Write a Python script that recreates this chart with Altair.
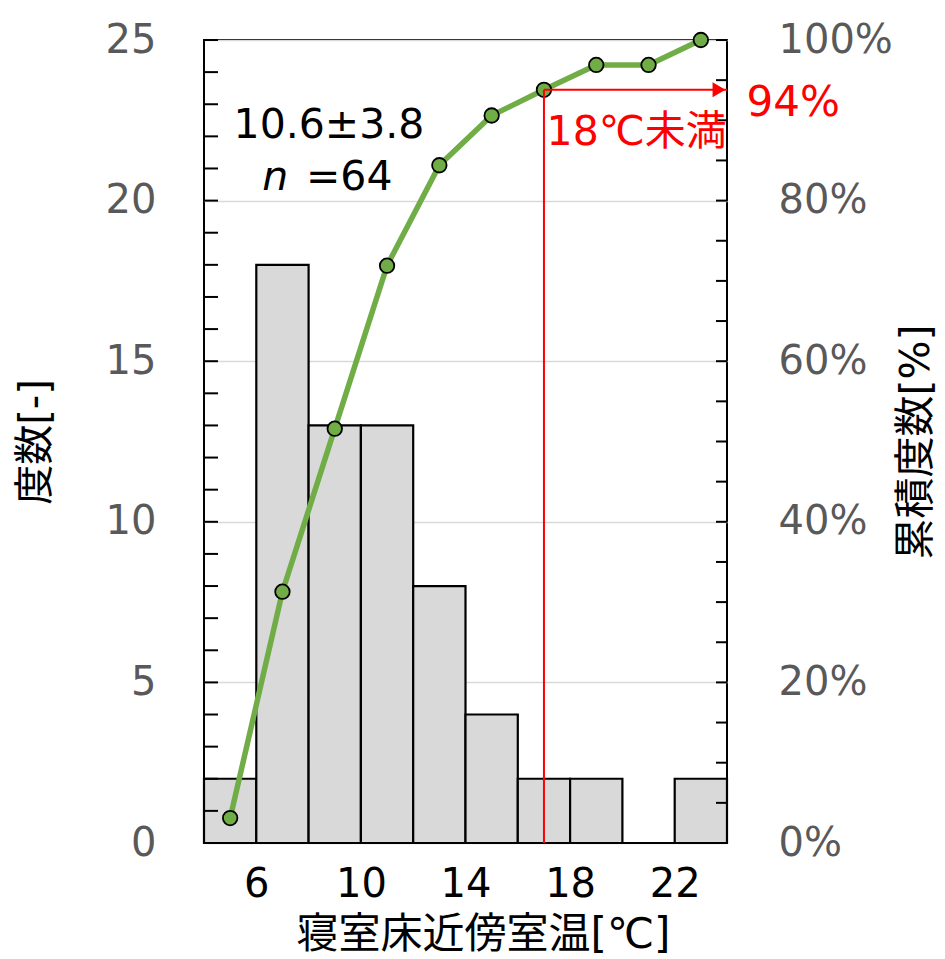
import altair as alt
import pandas as pd

# ---- data ----
bin_start = [4, 6, 8, 10, 12, 14, 16, 18, 20, 22]
bin_end = [6, 8, 10, 12, 14, 16, 18, 20, 22, 24]
counts = [2, 18, 13, 13, 8, 4, 2, 2, 0, 2]
bin_mid = [5, 7, 9, 11, 13, 15, 17, 19, 21, 23]
cum_pct = [3.1, 31.3, 51.6, 71.9, 84.4, 90.6, 93.8, 96.9, 96.9, 100.0]

x_tick_values = [6, 10, 14, 18, 22]
count_tick_values = [0, 5, 10, 15, 20, 25]
pct_tick_values = [0, 20, 40, 60, 80, 100]
count_minor = list(range(0, 26))
pct_minor = list(range(0, 101, 5))

threshold_x = [17]
threshold_x_end = [24]
threshold_pct = [93.8]

stat_text = ["10.6±3.8"]
stat_pos = [(8.78, 89.3)]
n_label = ["n"]
n_pos = [(6.72, 82.8)]
n_value = ["=64"]
n_value_pos = [(7.9, 82.8)]
thr_label = ["18℃未満"]
thr_label_pos = [(17.1, 88.4)]
pct_label = ["94%"]
pct_label_pos = [(24.75, 92.2)]

FONT = "DejaVu Sans, Noto Sans CJK JP"
GREEN = "#70ad47"
GRAY_LABEL = "#595959"
W, H = 523, 803

hist = pd.DataFrame({"start": bin_start, "end": bin_end, "count": counts,
                     "base": [0] * len(counts), "mid": bin_mid, "cum": cum_pct})

xs = alt.Scale(domain=[4, 24], nice=False, zero=False)
ys = alt.Scale(domain=[0, 25], nice=False)
ps = alt.Scale(domain=[0, 100], nice=False)

x_axis = alt.Axis(values=x_tick_values, title="寝室床近傍室温[℃]", grid=False, ticks=False,
                  domain=False, labelColor="black", labelFontSize=40, labelFont=FONT,
                  labelPadding=21, titleFontSize=42, titleFont=FONT, titleFontWeight="normal",
                  titleColor="black", titlePadding=10, titleX=279)

left_axis = alt.Axis(values=count_tick_values, title="度数[-]", grid=True, gridColor="#d9d9d9",
                     gridWidth=1.5, ticks=False, domain=False, labelColor=GRAY_LABEL,
                     labelFontSize=40, labelFont=FONT, labelPadding=48, titleFontSize=40,
                     titleFont=FONT, titleFontWeight="normal", titleColor="black",
                     titlePadding=50)

right_axis = alt.Axis(values=pct_tick_values, orient="right", title="累積度数[%]", grid=False,
                      ticks=False, domain=False, labelColor=GRAY_LABEL, labelFontSize=40,
                      labelFont=FONT, labelPadding=51, labelExpr="datum.value + '%'",
                      titleFontSize=41, titleFont=FONT, titleFontWeight="normal",
                      titleColor="black", titleAngle=270, titlePadding=45)


def X(field):
    return alt.X(field, scale=xs, axis=x_axis)


bars = alt.Chart(hist).mark_rect(fill="#d9d9d9", stroke="black", strokeWidth=2.2).encode(
    x=X("start:Q"),
    x2="end:Q",
    y=alt.Y("count:Q", scale=ys, axis=left_axis),
    y2="base:Q",
)

left_ticks = alt.Chart(pd.DataFrame({"v": count_minor})).mark_rule(
    color="black", strokeWidth=2).encode(
    y=alt.Y("v:Q", scale=ys, axis=None),
    x=alt.value(0), x2=alt.value(14),
)

line = alt.Chart(hist).mark_line(color=GREEN, strokeWidth=5.5).encode(
    x=X("mid:Q"),
    y=alt.Y("cum:Q", scale=ps, axis=right_axis),
)
points = alt.Chart(hist).mark_point(shape="circle", filled=True, fill=GREEN, stroke="black",
                                    strokeWidth=1.8, size=210, opacity=1).encode(
    x=X("mid:Q"),
    y=alt.Y("cum:Q", scale=ps, axis=None),
)

right_ticks = alt.Chart(pd.DataFrame({"v": pct_minor})).mark_rule(
    color="black", strokeWidth=2).encode(
    y=alt.Y("v:Q", scale=ps, axis=None),
    x=alt.value(W - 11), x2=alt.value(W),
)

thr = pd.DataFrame({"x": threshold_x, "x2": threshold_x_end, "p": threshold_pct, "z": [0]})
vrule = alt.Chart(thr).mark_rule(color="red", strokeWidth=2).encode(
    x=X("x:Q"),
    y=alt.Y("z:Q", scale=ps, axis=None),
    y2="p:Q",
)
hrule = alt.Chart(thr).mark_rule(color="red", strokeWidth=2).encode(
    x=X("x:Q"),
    x2="x2:Q",
    y=alt.Y("p:Q", scale=ps, axis=None),
)
arrow = alt.Chart(thr).mark_point(shape="triangle-right", filled=True, color="red", size=220,
                                  opacity=1, xOffset=-8).encode(
    x=X("x2:Q"),
    y=alt.Y("p:Q", scale=ps, axis=None),
)


def text_layer(texts, pos, color, align, style="normal", size=41):
    df = pd.DataFrame({"t": texts, "x": [p[0] for p in pos], "y": [p[1] for p in pos]})
    return alt.Chart(df).mark_text(font=FONT, fontSize=size, color=color, align=align,
                                   baseline="middle", fontStyle=style).encode(
        x=X("x:Q"),
        y=alt.Y("y:Q", scale=ps, axis=None),
        text="t:N",
    )


texts = [
    text_layer(stat_text, stat_pos, "black", "center"),
    text_layer(n_label, n_pos, "black", "center", style="italic"),
    text_layer(n_value, n_value_pos, "black", "left"),
    text_layer(thr_label, thr_label_pos, "red", "left", size=41),
    text_layer(pct_label, pct_label_pos, "red", "left", size=42),
]

chart = alt.layer(bars, left_ticks, line, points, vrule, hrule, arrow, right_ticks, *texts
                  ).resolve_scale(y="independent").properties(
    width=W, height=H,
    autosize=alt.AutoSizeParams(type="none"),
    padding={"left": 204, "top": 40, "right": 218, "bottom": 116},
    background="white",
).configure_view(stroke="black", strokeWidth=2)

chart.save("out.html", embed_options={"renderer": "svg", "actions": False})
